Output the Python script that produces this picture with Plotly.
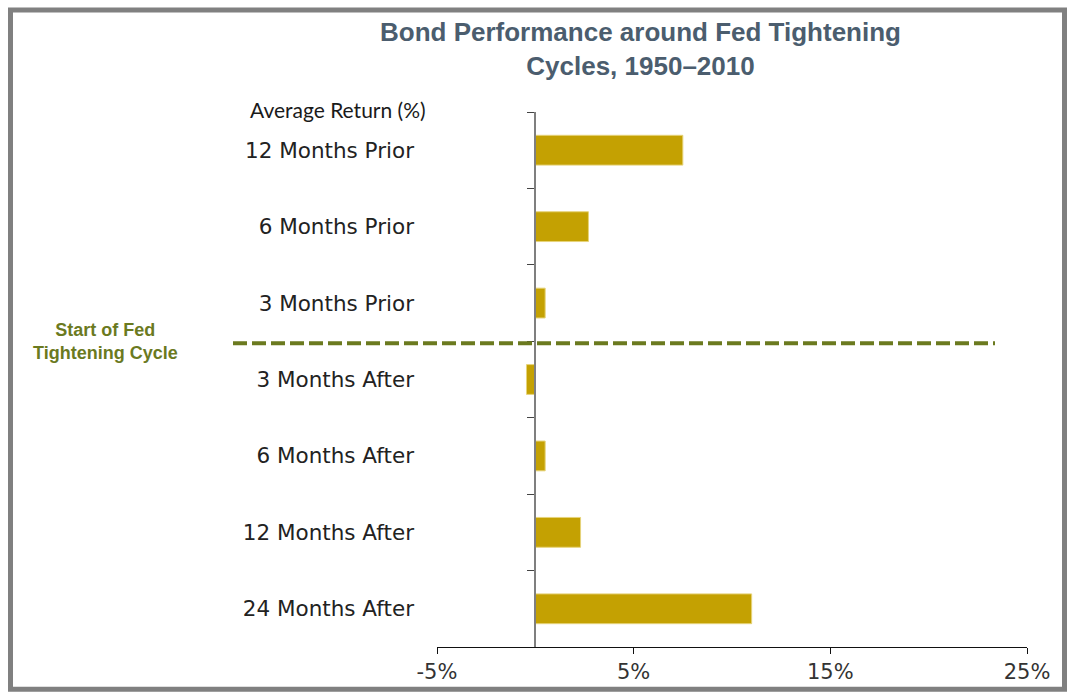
import plotly.graph_objects as go

categories = ["12 Months Prior", "6 Months Prior", "3 Months Prior",
              "3 Months After", "6 Months After", "12 Months After", "24 Months After"]
avg_return = [7.5, 2.7, 0.5, -0.45, 0.5, 2.3, 11.0]
x_tickvals = [-5, 5, 15, 25]
x_ticktext = ["-5%", "5%", "15%", "25%"]

W, H = 1067, 696
L, R, T, B = 437, 40, 112, 47
PW = W - L - R
PH = H - T - B


def px_x(p):
    return (p - L) / PW


def px_y(p):
    return (H - B - p) / PH


GOLD = "#C4A102"
OLIVE = "#6B7A1F"
WIDE = "DejaVu Sans, Arial, sans-serif"

fig = go.Figure()
fig.add_trace(go.Bar(
    x=avg_return, y=categories, orientation="h",
    marker=dict(color=GOLD, line=dict(color="#E6D37A", width=1)),
    width=0.39, hoverinfo="x+y", showlegend=False,
))
fig.add_trace(go.Scatter(
    x=[0] * len(categories), y=categories, yaxis="y2", mode="markers",
    marker=dict(opacity=0), hoverinfo="skip", showlegend=False,
))

fig.update_layout(
    width=W, height=H,
    margin=dict(l=L, r=R, t=T, b=B, pad=0),
    paper_bgcolor="white", plot_bgcolor="white",
    font=dict(family="Liberation Sans, Arial, sans-serif", color="#222222"),
    bargap=0.6,
    xaxis=dict(
        range=[-5, 25], tickvals=x_tickvals, ticktext=x_ticktext,
        showline=True, linecolor="#111111", linewidth=1,
        ticks="outside", ticklen=6, tickcolor="#111111", tickwidth=1,
        showgrid=False, zeroline=False,
        tickfont=dict(size=21, color="#333333", family=WIDE),
    ),
    yaxis=dict(
        type="category", categoryorder="array", categoryarray=categories,
        range=[6.5, -0.5], showline=False, showgrid=False, zeroline=False,
        ticks="", ticklabelstandoff=22,
        tickfont=dict(size=21.5, color="#222222", family=WIDE),
    ),
    yaxis2=dict(
        type="category", categoryorder="array", categoryarray=categories,
        range=[6.5, -0.5], overlaying="y", anchor="free", position=px_x(535.3),
        side="left", showline=True, linecolor="#7f7f7f", linewidth=2,
        ticks="outside", ticklen=7, tickcolor="#444444", tickwidth=1,
        tickson="boundaries", showticklabels=False, showgrid=False, zeroline=False,
    ),
    shapes=[
        dict(type="rect", xref="paper", yref="paper",
             x0=px_x(10.5), x1=px_x(1064.5), y0=px_y(9.5), y1=px_y(691.5),
             line=dict(color="#808080", width=5), layer="above"),
        dict(type="line", xref="paper", yref="paper",
             x0=px_x(233), x1=px_x(995), y0=px_y(344), y1=px_y(344),
             line=dict(color=OLIVE, width=4, dash="14px,5px")),
    ],
    annotations=[
        dict(text="<b>Bond Performance around Fed Tightening<br>Cycles, 1950–2010</b>",
             xref="paper", yref="paper", x=px_x(640), y=px_y(49),
             xanchor="center", yanchor="middle", showarrow=False,
             font=dict(size=26, color="#4B5D6E", family="Liberation Sans, Arial, sans-serif")),
        dict(text="Average Return (%)", xref="paper", yref="paper",
             x=px_x(428), y=px_y(109), xanchor="right", yanchor="middle",
             showarrow=False, font=dict(size=21, color="#1a1a1a", family="Lato, sans-serif")),
        dict(text="<b>Start of Fed<br>Tightening Cycle</b>", xref="paper", yref="paper",
             x=px_x(105), y=px_y(342), xanchor="center", yanchor="middle",
             showarrow=False, align="center",
             font=dict(size=18, color=OLIVE, family="Liberation Sans, Arial, sans-serif")),
    ],
)

fig.write_html("out.html")
